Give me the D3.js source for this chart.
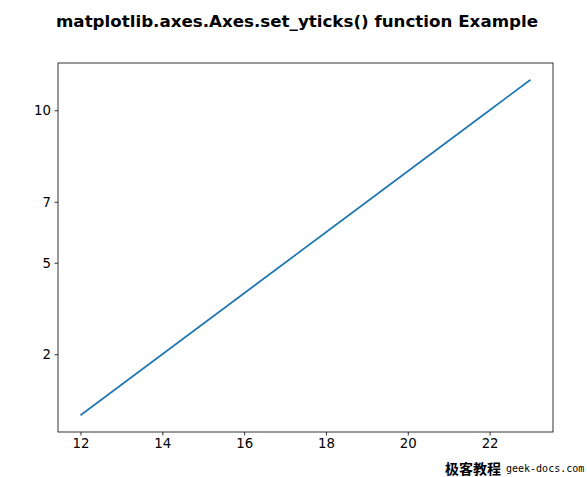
<!DOCTYPE html>
<html><head><meta charset="utf-8">
<script src="https://cdn.jsdelivr.net/npm/d3@7"></script>
<style>body{margin:0;background:#fff;} svg{display:block;}</style>
</head><body>
<script>
const xValues = [12,13,14,15,16,17,18,19,20,21,22,23];
const yValues = [0,1,2,3,4,5,6,7,8,9,10,11];
const xTicks = [12,14,16,18,20,22];
const yTicks = [2,5,7,10];
const title = "matplotlib.axes.Axes.set_yticks() function Example";
const watermark = "极客教程";
const watermark2 = "geek-docs.com";

const W = 587, H = 477;
const L = 58, R = 553, T = 63, B = 432;
const svg = d3.select("body").append("svg").attr("width", W).attr("height", H);
const font = "DejaVu Sans, sans-serif";

const x = d3.scaleLinear().domain([11.45, 23.55]).range([L, R]);
const y = d3.scaleLinear().domain([-0.55, 11.55]).range([B, T]);

svg.append("path")
  .datum(xValues.map((v,i)=>[v,yValues[i]]))
  .attr("fill","none").attr("stroke","#1f77b4").attr("stroke-width",1.7)
  .attr("d", d3.line().x(d=>x(d[0])).y(d=>y(d[1])));

const xa = svg.append("g").attr("transform",`translate(0,${B})`)
  .call(d3.axisBottom(x).tickValues(xTicks).tickSize(3.5).tickPadding(3.5).tickFormat(d3.format("d")));
const ya = svg.append("g").attr("transform",`translate(${L},0)`)
  .call(d3.axisLeft(y).tickValues(yTicks).tickSize(3.5).tickPadding(3.5).tickFormat(d3.format("d")));
[xa, ya].forEach(a=>{
  a.select(".domain").remove();
  a.selectAll("text").attr("font-family", font).attr("font-size", 13.3).attr("fill","#000");
  a.selectAll("line").attr("stroke","#000").attr("stroke-width",0.8);
});

svg.append("rect").attr("x",L).attr("y",T).attr("width",R-L).attr("height",B-T)
  .attr("fill","none").attr("stroke","#000").attr("stroke-width",0.8);

svg.append("text").attr("x", 297).attr("y", 27).attr("text-anchor","middle")
  .attr("font-family", font).attr("font-weight","bold").attr("font-size", 16.7).text(title);

svg.append("text").attr("x", 445).attr("y", 474)
  .attr("font-family","Noto Sans CJK SC, sans-serif").attr("font-weight","bold").attr("font-size", 14).text(watermark);
svg.append("text").attr("x", 506).attr("y", 472)
  .attr("font-family","DejaVu Sans Mono, monospace").attr("font-size", 10).text(watermark2);
</script>
</body></html>
